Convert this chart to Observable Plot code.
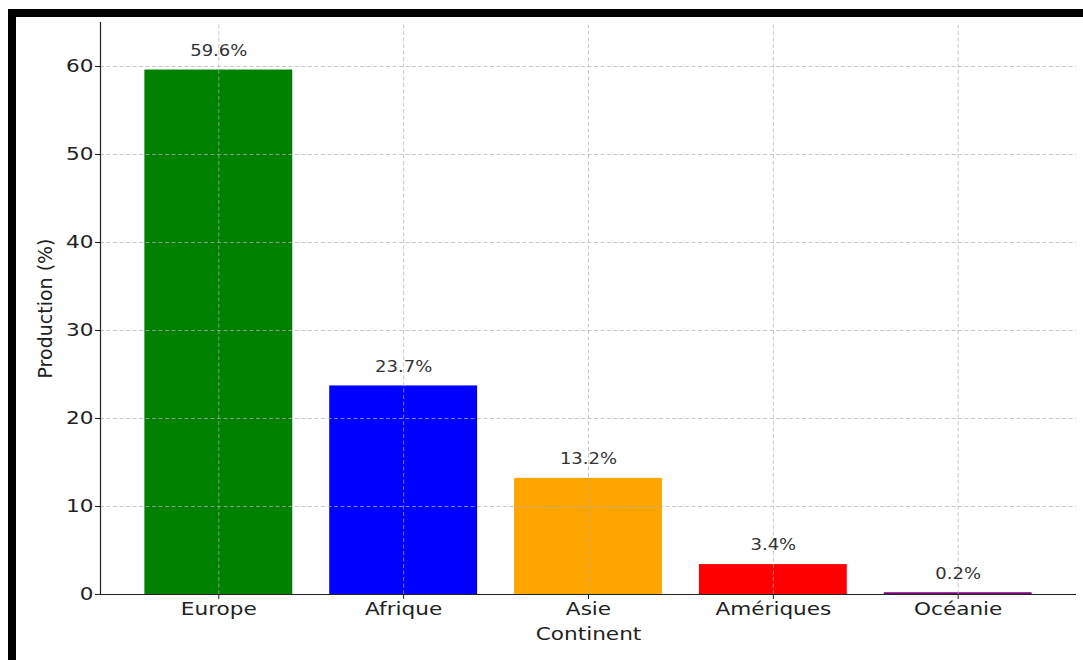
<!DOCTYPE html>
<html>
<head>
<meta charset="utf-8">
<script src="https://cdn.jsdelivr.net/npm/d3@7"></script>
<script src="https://cdn.jsdelivr.net/npm/@observablehq/plot@0.6"></script>
<style>
  html, body { margin: 0; padding: 0; background: #fff; }
  #frame {
    position: absolute; left: 8px; top: 9px;
    width: 1067px; height: 643px;
    border-top: 8px solid #000; border-left: 8px solid #000;
  }
  #frame svg { display: block; }
</style>
</head>
<body>
<div id="frame"></div>
<script>
const continents = ["Europe", "Afrique", "Asie", "Amériques", "Océanie"];
const production = [59.6, 23.7, 13.2, 3.4, 0.2];
const barColors = ["#008000", "#0000ff", "#ffa500", "#ff0000", "#800080"];
const yTicks = [0, 10, 20, 30, 40, 50, 60];

const data = continents.map((c, i) => ({i, continent: c, value: production[i], color: barColors[i]}));

const font = "DejaVu Sans, sans-serif";
const gridStyle = {stroke: "#b0b0b0", strokeOpacity: 0.7, strokeDasharray: "4,2.5", strokeWidth: 1};

const chart = Plot.plot({
  width: 1067,
  height: 643,
  marginLeft: 84,
  marginRight: 7,
  marginTop: 5,
  marginBottom: 66,
  style: {fontFamily: font, fontSize: "18px", color: "#222", background: "#fff"},
  x: {type: "linear", domain: [-0.64, 4.64], axis: null},
  y: {domain: [0, 65], axis: null},
  marks: [
    Plot.rect(data, {x1: d => d.i - 0.4, x2: d => d.i + 0.4, y1: 0, y2: "value", fill: "color"}),
    Plot.gridX(d3.range(continents.length), {...gridStyle, y1: 0, y2: 65}),
    Plot.gridY(yTicks, {...gridStyle, x1: -0.64, x2: 4.64}),
    Plot.text(data, {x: "i", y: "value", text: d => d.value.toFixed(1) + "%", dy: -19, fontSize: 15, fill: "#333", lineAnchor: "middle"}),
    Plot.axisX(d3.range(continents.length), {tickFormat: i => continents[i], tickSize: 5, tickPadding: 3, fontSize: 18, label: null, stroke: "#222"}),
    Plot.axisY(yTicks, {tickSize: 5, tickPadding: 2, fontSize: 18, label: null, stroke: "#222"}),
    Plot.ruleX([-0.64], {y1: 0, y2: 65, stroke: "#222", strokeWidth: 1.2}),
    Plot.ruleY([0], {x1: -0.64, x2: 4.64, stroke: "#222", strokeWidth: 1.2}),
    Plot.text(["Continent"], {frameAnchor: "bottom", dy: 45, fontSize: 18, fill: "#222"}),
    Plot.text(["Production (%)"], {frameAnchor: "left", dx: -55, rotate: -90, textAnchor: "middle", fontSize: 19, fill: "#222", className: "ylabel"})
  ]
});
document.getElementById("frame").appendChild(chart);

// The reference's lettering is widened horizontally by about 1.2x
d3.select(chart).selectAll("text").each(function() {
  if (this.closest(".ylabel")) return;
  const len = this.getComputedTextLength();
  if (len > 0) {
    this.setAttribute("textLength", (len * 1.2).toFixed(1));
    this.setAttribute("lengthAdjust", "spacingAndGlyphs");
  }
});
</script>
</body>
</html>
